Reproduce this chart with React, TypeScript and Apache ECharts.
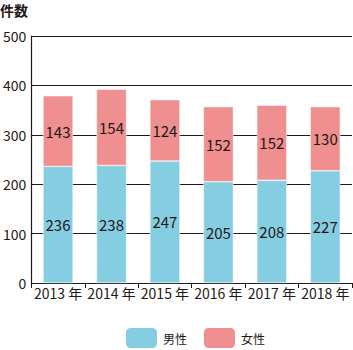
import React, { useEffect, useRef } from "react";
import * as echarts from "echarts";

const categories = ["2013 年", "2014 年", "2015 年", "2016 年", "2017 年", "2018 年"];
const male = [236, 238, 247, 205, 208, 227];
const female = [143, 154, 124, 152, 152, 130];
const seriesNames = ["男性", "女性"];

export default function App() {
  const ref = useRef<HTMLDivElement>(null);
  useEffect(() => {
    const chart = echarts.init(ref.current!, null, { renderer: "svg" });
    const font = "'Noto Sans CJK JP', 'Noto Sans', sans-serif";
    const label = {
      show: true,
      position: "inside" as const,
      color: "#231815",
      fontSize: 15,
      fontFamily: font,
    };
    chart.setOption({
      animation: false,
      textStyle: { fontFamily: font },
      title: {
        text: "件数",
        left: 0,
        top: 3,
        padding: 0,
        textStyle: { fontSize: 14, fontWeight: "bold", color: "#231815", fontFamily: font },
      },
      grid: { left: 30, right: 1, top: 36, bottom: 67, containLabel: false },
      legend: {
        bottom: 0,
        left: 124,
        padding: 0,
        itemWidth: 33,
        itemHeight: 22,
        itemGap: 15,
        textStyle: { fontSize: 12, color: "#231815", fontFamily: font },
        data: seriesNames,
      },
      xAxis: {
        type: "category",
        data: categories,
        axisLine: { lineStyle: { color: "#231815", width: 1.2 } },
        axisTick: { show: true, length: 5, lineStyle: { color: "#231815" } },
        axisLabel: { color: "#231815", fontSize: 14, margin: 3, interval: 0 },
      },
      yAxis: {
        type: "value",
        min: 0,
        max: 500,
        interval: 100,
        axisLine: { show: true, lineStyle: { color: "#231815", width: 1.2 } },
        axisTick: { show: false },
        axisLabel: { color: "#231815", fontSize: 14, margin: 5 },
        splitLine: { lineStyle: { color: "#231815", width: 1 } },
      },
      series: [
        {
          name: seriesNames[0],
          type: "bar",
          stack: "total",
          data: male,
          barWidth: 30,
          itemStyle: { color: "#85cee2", borderColor: "#ffffff", borderWidth: 0.5 },
          label,
        },
        {
          name: seriesNames[1],
          type: "bar",
          stack: "total",
          data: female,
          barWidth: 30,
          itemStyle: { color: "#ef8f90", borderColor: "#ffffff", borderWidth: 0.5 },
          label,
        },
      ],
    });
    return () => chart.dispose();
  }, []);
  return (
    <div
      ref={ref}
      style={{ position: "absolute", left: 0, top: 0, width: 353, height: 350 }}
    />
  );
}
